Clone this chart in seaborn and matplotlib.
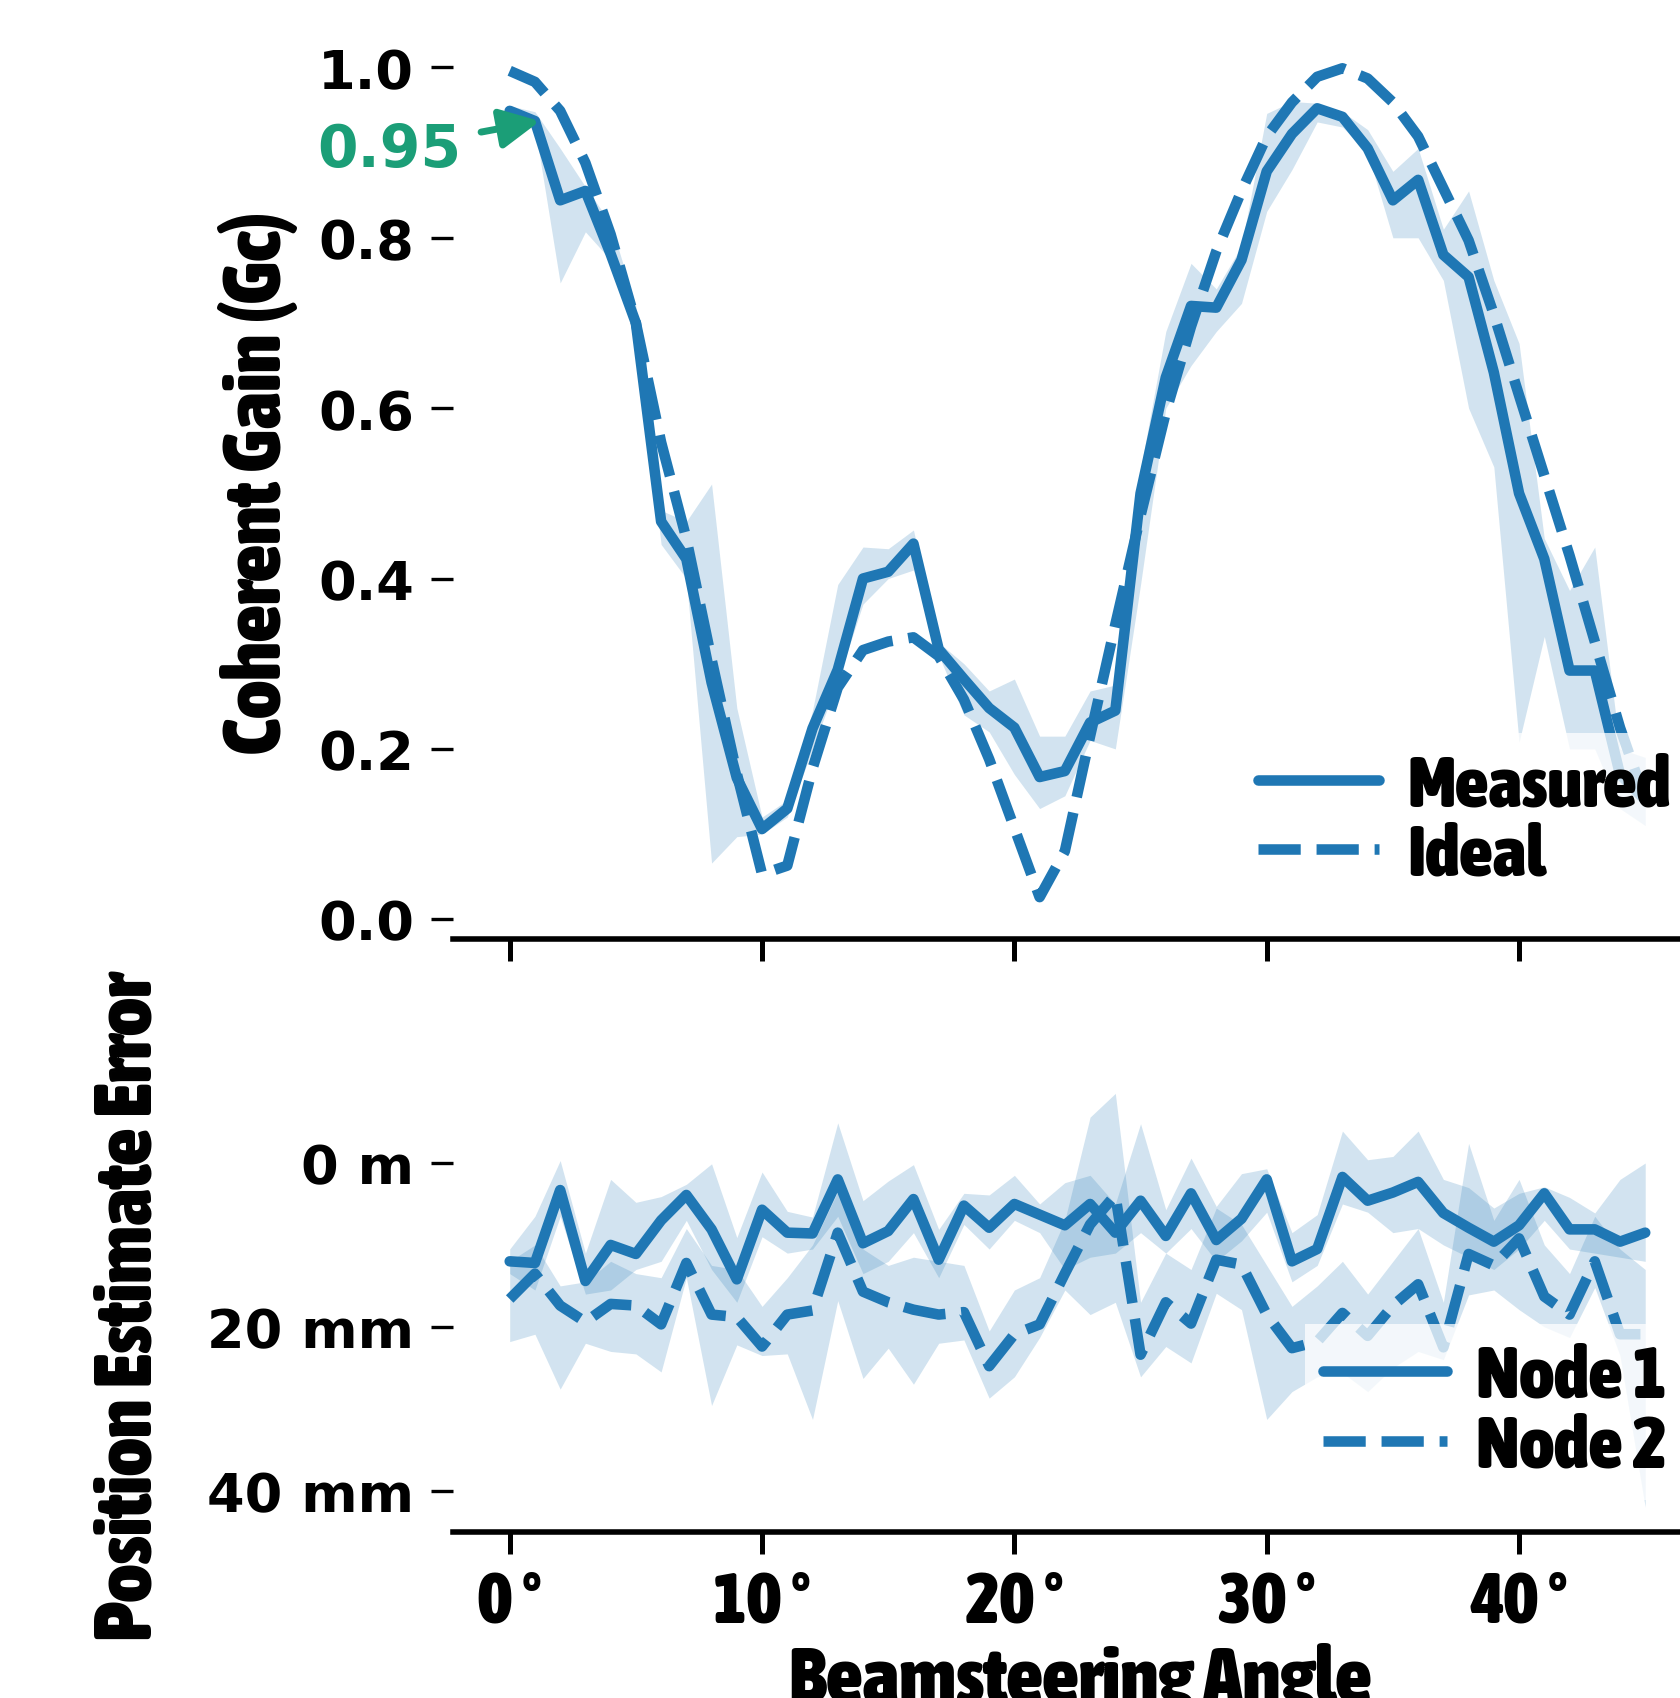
import numpy as np
import pandas as pd
import matplotlib
matplotlib.use("Agg")
import matplotlib.pyplot as plt
import seaborn as sns
from matplotlib.lines import Line2D
from matplotlib import font_manager as fm

########################################
# data
########################################
angles = list(range(46))

# coherent gain, measured mean and band
measured = [0.949, 0.937, 0.844, 0.855, 0.781, 0.70, 0.467, 0.423, 0.278, 0.166,
            0.106, 0.13, 0.224, 0.293, 0.40, 0.408, 0.441, 0.317, 0.282, 0.248,
            0.225, 0.167, 0.174, 0.231, 0.245, 0.50, 0.636, 0.72, 0.718, 0.774,
            0.878, 0.922, 0.952, 0.942, 0.905, 0.844, 0.868, 0.78, 0.754, 0.642,
            0.50, 0.423, 0.292, 0.292, 0.17, 0.14]
measured_lo = [0.945, 0.93, 0.747, 0.807, 0.774, 0.69, 0.44, 0.40, 0.066, 0.097,
               0.10, 0.12, 0.20, 0.28, 0.37, 0.40, 0.41, 0.31, 0.24, 0.22,
               0.17, 0.13, 0.145, 0.21, 0.20, 0.393, 0.60, 0.65, 0.69, 0.723,
               0.831, 0.88, 0.936, 0.93, 0.90, 0.80, 0.80, 0.75, 0.60, 0.531,
               0.208, 0.332, 0.20, 0.20, 0.13, 0.11]
measured_hi = [0.955, 0.948, 0.905, 0.86, 0.817, 0.72, 0.48, 0.467, 0.511, 0.248,
               0.12, 0.14, 0.245, 0.393, 0.437, 0.435, 0.457, 0.325, 0.30, 0.268,
               0.282, 0.215, 0.215, 0.268, 0.275, 0.528, 0.69, 0.77, 0.74, 0.79,
               0.946, 0.96, 0.958, 0.948, 0.927, 0.878, 0.905, 0.81, 0.855, 0.75,
               0.676, 0.447, 0.386, 0.437, 0.20, 0.19]
ideal = [0.996, 0.983, 0.949, 0.888, 0.804, 0.70, 0.56, 0.447, 0.305, 0.171,
         0.053, 0.063, 0.177, 0.272, 0.316, 0.326, 0.331, 0.309, 0.258, 0.188,
         0.107, 0.026, 0.08, 0.215, 0.346, 0.474, 0.595, 0.696, 0.784, 0.855,
         0.919, 0.959, 0.989, 0.999, 0.987, 0.959, 0.919, 0.858, 0.797, 0.71,
         0.615, 0.521, 0.427, 0.326, 0.225, 0.14]

# position estimate error (mm)
node1 = [12.0, 12.2, 3.3, 14.4, 10.0, 11.1, 7.0, 3.9, 8.1, 14.2,
         5.7, 8.5, 8.6, 2.0, 9.8, 8.3, 4.4, 11.8, 5.2, 7.9,
         5.0, 6.3, 7.6, 5.0, 8.5, 4.6, 8.9, 3.7, 9.4, 6.8,
         2.0, 12.0, 10.5, 1.7, 4.6, 3.6, 2.3, 6.1, 7.9, 9.6,
         7.6, 3.7, 8.1, 8.1, 9.6, 8.5]
node1_lo = [10.5, 6.5, -0.3, 11.0, 2.0, 4.8, 4.1, 2.6, 0.1, 9.1,
            1.1, 5.9, 6.6, -4.9, 4.6, 2.2, 0.2, 8.1, 3.7, 3.9,
            1.5, 5.0, 2.4, 1.5, 5.0, -4.8, 5.7, -0.6, 5.3, 1.3,
            0.7, 8.5, 6.3, -3.9, -0.4, -0.8, -3.9, 2.0, 3.0, 5.5,
            3.7, 2.9, 4.2, 6.1, 2.0, 0.0]
node1_hi = [13.5, 15.5, 6.5, 16.0, 15.5, 13.0, 12.0, 7.0, 13.0, 17.0,
            9.0, 11.0, 10.5, 6.5, 13.5, 12.0, 8.5, 14.0, 7.5, 10.5,
            7.0, 8.5, 13.0, 11.5, 11.0, 8.5, 11.0, 8.0, 12.0, 9.5,
            6.0, 14.5, 12.5, 5.0, 6.0, 8.5, 8.0, 10.0, 11.5, 13.0,
            10.5, 7.0, 10.5, 11.0, 11.5, 12.0]
node2 = [16.6, 13.5, 17.4, 19.4, 17.2, 17.4, 19.7, 12.2, 18.5, 18.8,
         22.4, 18.5, 18.0, 8.5, 15.7, 17.0, 17.9, 18.5, 18.2, 24.8,
         20.9, 19.7, 13.5, 7.5, 3.9, 23.4, 17.0, 19.6, 11.8, 12.4,
         18.5, 22.6, 21.8, 18.3, 21.1, 17.4, 14.8, 22.5, 11.1, 12.5,
         9.2, 16.3, 18.5, 12.0, 20.9, 20.9]
node2_lo = [12.0, 10.0, 15.0, 14.5, 12.0, 13.5, 14.0, 8.0, 12.5, 13.0,
            17.5, 14.0, 10.0, 3.5, 10.5, 12.5, 11.5, 12.0, 12.5, 20.5,
            15.5, 14.0, 7.0, -5.6, -8.5, 17.0, 11.0, 13.0, 5.5, 7.5,
            12.5, 17.5, 15.0, 12.0, 16.0, 12.0, 8.0, 17.0, -2.4, 7.0,
            2.0, 10.0, 13.5, 6.5, 10.5, 13.0]
node2_hi = [21.8, 20.9, 27.6, 22.0, 23.0, 23.3, 25.5, 14.0, 29.6, 22.2,
            23.5, 23.3, 31.3, 16.8, 26.3, 22.6, 27.0, 22.0, 21.6, 28.7,
            26.1, 21.3, 15.5, 18.5, 17.0, 26.1, 22.4, 24.4, 15.9, 17.9,
            31.3, 27.9, 26.1, 25.6, 27.9, 25.0, 23.0, 24.0, 16.1, 15.5,
            17.9, 20.0, 21.3, 15.2, 23.5, 42.0]

gain_ticks = [0.0, 0.2, 0.4, 0.6, 0.8, 1.0]
err_ticks = [0, 20, 40]
err_tick_labels = ["0 m", "20 mm", "40 mm"]
angle_ticks = [0, 10, 20, 30, 40]
angle_tick_labels = ["0 °", "10 °", "20 °", "30 °", "40 °"]

BLUE = "#1f77b4"
GREEN = "#1b9e77"
LW = 3.8


def _weight(f):
    return f.weight if isinstance(f.weight, int) else fm.weight_dict.get(f.weight, 400)


def pick_narrow_font():
    # heaviest upright condensed face that is installed
    best, best_score = None, None
    for f in fm.fontManager.ttflist:
        path = f.fname.lower()
        if "italic" in path or "oblique" in path or f.style != "normal":
            continue
        is_narrow = ("condensed" in path or "narrow" in path
                     or f.stretch in ("condensed", "extra-condensed", "semi-condensed"))
        if not is_narrow:
            continue
        score = abs(_weight(f) - 900)
        if "extracondensed" in path or "extra-condensed" in path or f.stretch == "extra-condensed":
            score += 100
        elif "semicondensed" in path or "semi-condensed" in path or f.stretch == "semi-condensed":
            score += 50
        if best_score is None or score < best_score:
            best, best_score = f.fname, score
    return best


narrow_path = pick_narrow_font()


def narrow_fp(size):
    if narrow_path:
        return fm.FontProperties(fname=narrow_path, size=size)
    return fm.FontProperties(family="DejaVu Sans", weight="bold", size=size * 0.85)


def wide_fp(size):
    return fm.FontProperties(family="DejaVu Sans", weight="bold", size=size)


sns.set_theme(style="ticks")
plt.rcParams["font.family"] = ["DejaVu Sans"]
plt.rcParams["font.weight"] = "bold"
for key in ("text.color", "axes.labelcolor", "xtick.color", "ytick.color", "axes.edgecolor"):
    plt.rcParams[key] = "black"

fig = plt.figure(figsize=(8.4, 8.495), dpi=200)
ax_top = fig.add_axes([0.2696, 0.4468, 0.7435, 0.538])
ax_bot = fig.add_axes([0.2696, 0.0979, 0.7435, 0.2652])

########################################
# top: coherent gain
########################################
gain_df = pd.DataFrame({
    "angle": angles + angles,
    "gain": measured + ideal,
    "kind": ["Measured"] * len(angles) + ["Ideal"] * len(angles),
})
ax_top.fill_between(angles, measured_lo, measured_hi, color=BLUE, alpha=0.2, linewidth=0)
sns.lineplot(data=gain_df, x="angle", y="gain", style="kind",
             style_order=["Measured", "Ideal"], color=BLUE, linewidth=LW,
             errorbar=None, legend=False, ax=ax_top)

ax_top.set_ylim(-0.023, 1.05)
ax_top.set_yticks(gain_ticks, [f"{t:.1f}" for t in gain_ticks])
for lbl in ax_top.get_yticklabels():
    lbl.set_fontproperties(wide_fp(19.5))
ax_top.set_xlabel("")
ax_top.set_ylabel("Coherent Gain (Gc)", fontproperties=narrow_fp(29))
ax_top.yaxis.set_label_coords(-0.1240, 0.5)
ax_top.tick_params(axis="x", labelbottom=False)

ax_top.annotate("0.95", xy=(1.2, 0.937), xytext=(-4.77, 0.904),
                ha="center", va="center", color=GREEN,
                fontproperties=wide_fp(21), annotation_clip=False,
                arrowprops=dict(arrowstyle="-|>", color=GREEN, lw=2.5,
                                mutation_scale=30, shrinkA=5, shrinkB=0))

top_handles = [Line2D([], [], color=BLUE, lw=LW),
               Line2D([], [], color=BLUE, lw=LW, dashes=(4, 1.5))]
ax_top.legend(top_handles, ["Measured", "Ideal"], loc="upper left",
              bbox_to_anchor=(0.630, 0.225), borderaxespad=0, borderpad=0.25,
              handlelength=1.68, handletextpad=0.39, labelspacing=0.0,
              prop=narrow_fp(26), frameon=True, framealpha=0.75,
              facecolor="white", edgecolor="none", fancybox=False)

########################################
# bottom: position estimate error
########################################
err_df = pd.DataFrame({
    "angle": angles + angles,
    "error": node1 + node2,
    "node": ["Node 1"] * len(angles) + ["Node 2"] * len(angles),
})
ax_bot.fill_between(angles, node1_lo, node1_hi, color=BLUE, alpha=0.2, linewidth=0)
ax_bot.fill_between(angles, node2_lo, node2_hi, color=BLUE, alpha=0.2, linewidth=0)
sns.lineplot(data=err_df, x="angle", y="error", style="node",
             style_order=["Node 1", "Node 2"], color=BLUE, linewidth=LW,
             errorbar=None, legend=False, ax=ax_bot)

ax_bot.set_ylim(45, -10)
ax_bot.set_yticks(err_ticks, err_tick_labels)
for lbl in ax_bot.get_yticklabels():
    lbl.set_fontproperties(wide_fp(19.5))
ax_bot.set_xticks(angle_ticks, angle_tick_labels)
for lbl in ax_bot.get_xticklabels():
    lbl.set_fontproperties(narrow_fp(26))
ax_bot.set_ylabel("Position Estimate Error", fontproperties=narrow_fp(29))
ax_bot.yaxis.set_label_coords(-0.2274, 0.5)
ax_bot.set_xlabel("Beamsteering Angle", fontproperties=narrow_fp(28.5))
ax_bot.xaxis.set_label_coords(0.502, -0.245)

bot_handles = [Line2D([], [], color=BLUE, lw=LW),
               Line2D([], [], color=BLUE, lw=LW, dashes=(4, 1.5))]
ax_bot.legend(bot_handles, ["Node 1", "Node 2"], loc="upper left",
              bbox_to_anchor=(0.682, 0.462), borderaxespad=0, borderpad=0.25,
              handlelength=1.68, handletextpad=0.39, labelspacing=0.0,
              prop=narrow_fp(26.5), frameon=True, framealpha=0.75,
              facecolor="white", edgecolor="none", fancybox=False)

# shared axis styling
for ax in (ax_top, ax_bot):
    ax.set_xlim(-2.25, 47.25)
    if ax is ax_top:
        ax.set_xticks(angle_ticks)
    sns.despine(ax=ax)
    ax.spines["left"].set_visible(False)
    ax.spines["bottom"].set_linewidth(2.0)
    ax.spines["bottom"].set_color("black")
    ax.tick_params(axis="x", length=8, width=1.8, color="black", pad=5)
    ax.tick_params(axis="y", length=8, width=1.2, color="black", pad=6, left=True)

fig.savefig("out.png", dpi=200)
